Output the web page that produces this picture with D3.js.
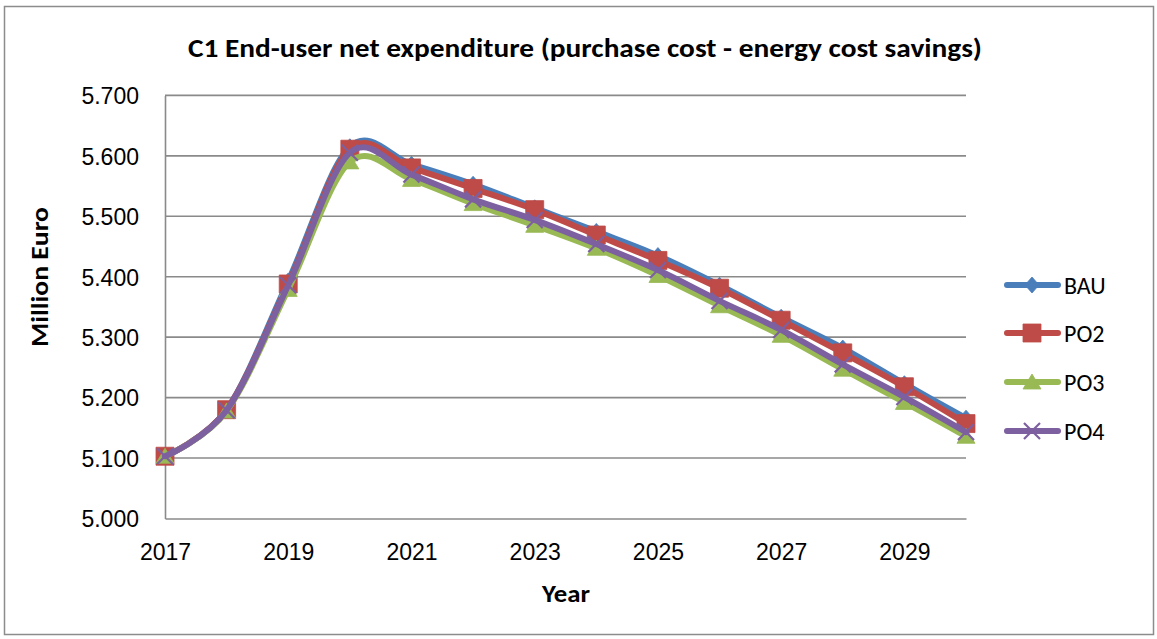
<!DOCTYPE html>
<html>
<head>
<meta charset="utf-8">
<script src="https://cdn.jsdelivr.net/npm/d3@7"></script>
<style>
  html, body { margin: 0; padding: 0; background: #fff; }
  svg { display: block; font-family: Carlito, "Open Sans", "Noto Sans", sans-serif; }
</style>
</head>
<body>
<svg id="chart" width="1157" height="639"></svg>
<script>
// Years on the horizontal axis
const years = [2017, 2018, 2019, 2020, 2021, 2022, 2023, 2024, 2025, 2026, 2027, 2028, 2029, 2030];

// Net expenditure per scenario (million euro)
const bau = [5.103, 5.180, 5.393, 5.615, 5.586, 5.553, 5.514, 5.475, 5.435, 5.386, 5.333, 5.282, 5.223, 5.166];
const po2 = [5.103, 5.180, 5.388, 5.611, 5.580, 5.546, 5.511, 5.469, 5.427, 5.381, 5.328, 5.274, 5.218, 5.157];
const po3 = [5.103, 5.178, 5.379, 5.590, 5.561, 5.521, 5.485, 5.447, 5.402, 5.352, 5.303, 5.247, 5.192, 5.136];
const po4 = [5.103, 5.179, 5.386, 5.605, 5.569, 5.528, 5.494, 5.454, 5.411, 5.360, 5.312, 5.255, 5.201, 5.143];

const seriesNames = ["BAU", "PO2", "PO3", "PO4"];
const yTicks = [5.0, 5.1, 5.2, 5.3, 5.4, 5.5, 5.6, 5.7];
const xTicks = [2017, 2019, 2021, 2023, 2025, 2027, 2029];

const titleText = "C1 End-user net expenditure (purchase cost - energy cost savings)";
const xTitle = "Year";
const yTitle = "Million Euro";

const series = [
  { name: seriesNames[0], values: bau, color: "#4a7ebb", marker: "diamond" },
  { name: seriesNames[1], values: po2, color: "#be4b48", marker: "square" },
  { name: seriesNames[2], values: po3, color: "#98b954", marker: "triangle" },
  { name: seriesNames[3], values: po4, color: "#7d60a0", marker: "cross" }
];

const svg = d3.select("#chart");

// outer chart frame
svg.append("rect")
  .attr("x", 4.5).attr("y", 6.5).attr("width", 1149).attr("height", 628)
  .attr("fill", "#fff").attr("stroke", "#8c8c8c").attr("stroke-width", 1.5);

const plot = { left: 165, right: 966, top: 95.4, bottom: 518.5 };

const x = d3.scaleLinear().domain([2017, 2030]).range([plot.left, plot.right]);
const y = d3.scaleLinear().domain([5.0, 5.7]).range([plot.bottom, plot.top]);

// horizontal gridlines
svg.append("g")
  .selectAll("line")
  .data(yTicks.filter(t => t > 5.0))
  .join("line")
  .attr("x1", plot.left).attr("x2", plot.right)
  .attr("y1", d => y(d)).attr("y2", d => y(d))
  .attr("stroke", "#8a8a8a").attr("stroke-width", 1.6);

// y axis
const yAxis = svg.append("g")
  .attr("transform", `translate(${plot.left},0)`)
  .call(d3.axisLeft(y).tickValues(yTicks).tickFormat(d3.format(".3f")).tickSize(0).tickPadding(26));
yAxis.select(".domain").attr("stroke", "#8a8a8a").attr("stroke-width", 1.6);
yAxis.selectAll("text").attr("font-size", 23).attr("fill", "#000").attr("dy", "0.36em");

// x axis
const xAxis = svg.append("g")
  .attr("transform", `translate(0,${plot.bottom})`)
  .call(d3.axisBottom(x).tickValues(xTicks).tickFormat(d3.format("d")).tickSize(0).tickPadding(25));
xAxis.select(".domain").attr("stroke", "#8a8a8a").attr("stroke-width", 1.6);
xAxis.selectAll("text").attr("font-size", 23).attr("fill", "#000");

// titles
svg.append("text")
  .attr("x", 585).attr("y", 57)
  .attr("text-anchor", "middle")
  .attr("font-size", 26).attr("font-weight", "bold")
  .attr("textLength", 794).attr("lengthAdjust", "spacingAndGlyphs")
  .text(titleText);

svg.append("text")
  .attr("x", 566).attr("y", 602)
  .attr("text-anchor", "middle")
  .attr("font-size", 25).attr("font-weight", "bold")
  .attr("textLength", 48).attr("lengthAdjust", "spacingAndGlyphs")
  .text(xTitle);

svg.append("text")
  .attr("transform", "translate(48,277) rotate(-90)")
  .attr("text-anchor", "middle")
  .attr("font-size", 25).attr("font-weight", "bold")
  .attr("textLength", 140).attr("lengthAdjust", "spacingAndGlyphs")
  .text(yTitle);

// marker shapes
function markerPath(type) {
  switch (type) {
    case "diamond": return "M0,-8L7,0L0,8L-7,0Z";
    case "square": return "M-9,-9H9V9H-9Z";
    case "triangle": return "M0,-8L9,7H-9Z";
    case "cross": return "M-8,-8L8,8M8,-8L-8,8";
  }
}

function drawMarker(g, type, color) {
  const p = g.append("path").attr("d", markerPath(type));
  if (type === "cross") {
    p.attr("fill", "none").attr("stroke", color).attr("stroke-width", 2.2);
  } else {
    p.attr("fill", color).attr("stroke", color).attr("stroke-width", 0.8);
  }
}

const line = d3.line()
  .x((d, i) => x(years[i]))
  .y(d => y(d))
  .curve(d3.curveCatmullRom.alpha(0));

const seriesG = svg.append("g");
series.forEach(s => {
  const g = seriesG.append("g");
  g.append("path")
    .attr("d", line(s.values))
    .attr("fill", "none")
    .attr("stroke", s.color)
    .attr("stroke-width", 6)
    .attr("stroke-linecap", "round")
    .attr("stroke-linejoin", "round");
  s.values.forEach((v, i) => {
    const m = g.append("g").attr("transform", `translate(${x(years[i])},${y(v)})`);
    drawMarker(m, s.marker, s.color);
  });
});

// legend
const legendRows = [285, 333, 382, 431];
const legend = svg.append("g");
series.forEach((s, i) => {
  const row = legend.append("g").attr("transform", `translate(0,${legendRows[i]})`);
  row.append("line")
    .attr("x1", 1007).attr("x2", 1058).attr("y1", 0).attr("y2", 0)
    .attr("stroke", s.color).attr("stroke-width", 6).attr("stroke-linecap", "round");
  const m = row.append("g").attr("transform", "translate(1032,0)");
  drawMarker(m, s.marker, s.color);
  row.append("text")
    .attr("x", 1064).attr("y", 0).attr("dy", "0.36em")
    .attr("font-size", 24).attr("fill", "#000")
    .text(s.name);
});
</script>
</body>
</html>
